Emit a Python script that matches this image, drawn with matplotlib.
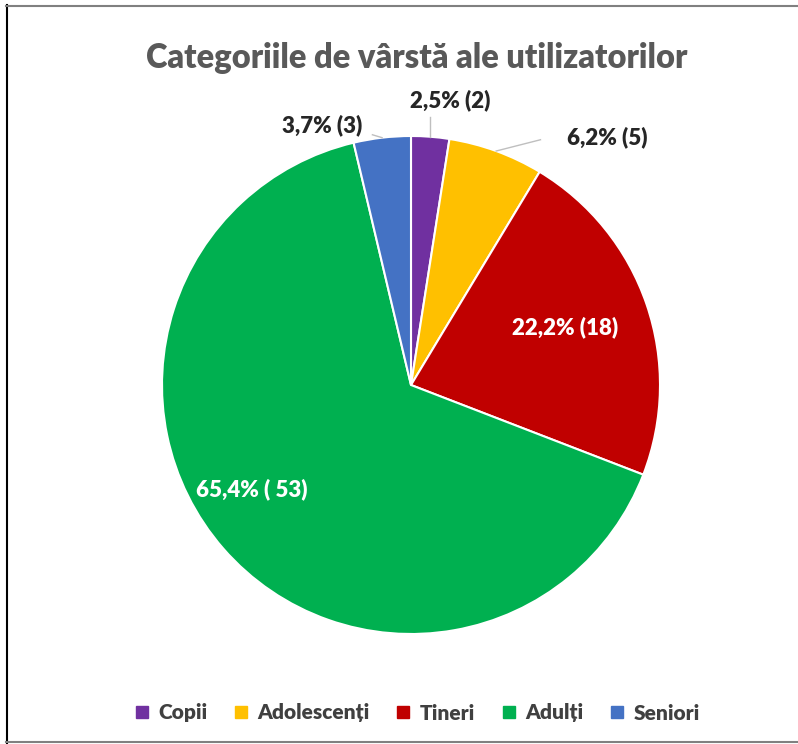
import numpy as np
import matplotlib
matplotlib.use("Agg")
import matplotlib.pyplot as plt
from matplotlib.lines import Line2D

categories = ["Copii", "Adolescenți", "Tineri", "Adulți", "Seniori"]
counts = [2, 5, 18, 53, 3]
labels = ["2,5% (2)", "6,2% (5)", "22,2% (18)", "65,4% ( 53)", "3,7% (3)"]
colors = ["#7030A0", "#FFC000", "#C00000", "#00B050", "#4472C4"]
title = "Categoriile de vârstă ale utilizatorilor"

plt.rcParams['font.family'] = ['Lato', 'DejaVu Sans']

W, H = 798, 744
fig = plt.figure(figsize=(W / 100, H / 100), dpi=100)
cx, cy, r = 411, 385, 249
ax = fig.add_axes([(cx - r) / W, (H - cy - r) / H, 2 * r / W, 2 * r / H])
wedges, _ = ax.pie(counts, colors=colors, startangle=90, counterclock=False,
                   radius=1, wedgeprops=dict(edgecolor="white", linewidth=1.5))
ax.set_xlim(-1, 1)
ax.set_ylim(-1, 1)
ax.set_aspect("equal")
ax.axis("off")

# label placement (layout), by slice index: (x, y, inside)
label_pos = [(0.157, 1.145, False), (0.79, 0.995, False), (0.62, 0.23, True),
             (-0.64, -0.42, True), (-0.355, 1.045, False)]
for w, lab, (lx, ly, inside) in zip(wedges, labels, label_pos):
    if inside:
        ax.text(lx, ly, lab, color="white", fontsize=16, fontweight="heavy",
                ha="center", va="center")
    else:
        ang = np.deg2rad((w.theta1 + w.theta2) / 2)
        ex, ey = np.cos(ang), np.sin(ang)
        ax.text(lx, ly, lab, color="#262626", fontsize=16, fontweight="heavy",
                ha="center", va="center", clip_on=False)
        # leader line
        if abs(lx - ex) < 0.1:
            tx, ty = ex, ly - 0.07
        elif lx > ex:
            tx, ty = lx - 0.27, ly - 0.01
        else:
            tx, ty = lx + 0.2, ly - 0.04
        ax.plot([ex, tx], [ey, ty], color="#BFBFBF", lw=1, clip_on=False)

fig.text(0.522, 1 - 58 / H, title, ha="center", va="center", fontsize=23.5,
         fontweight="heavy", color="#595959")

handles = [Line2D([], [], marker="s", linestyle="none", markersize=9,
                  markerfacecolor=c, markeredgecolor=c) for c in colors]
leg = fig.legend(handles, categories, loc="center", bbox_to_anchor=(0.522, 1 - 713 / H),
                 ncol=5, frameon=False, fontsize=15, handlelength=0.8,
                 handletextpad=0.4, columnspacing=1.2)
for t in leg.get_texts():
    t.set_color("#404040")
    t.set_fontweight("heavy")

# frame
fig.add_artist(Line2D([6.5 / W, 6.5 / W], [0, 1 - 5 / H], transform=fig.transFigure, color="black", lw=1.5))
fig.add_artist(Line2D([6 / W, 1], [1 - 5.5 / H, 1 - 5.5 / H], transform=fig.transFigure, color="#808080", lw=1.5))
fig.add_artist(Line2D([6 / W, 1], [2 / H, 2 / H], transform=fig.transFigure, color="#808080", lw=1.5))

fig.savefig("out.png", dpi=100)
